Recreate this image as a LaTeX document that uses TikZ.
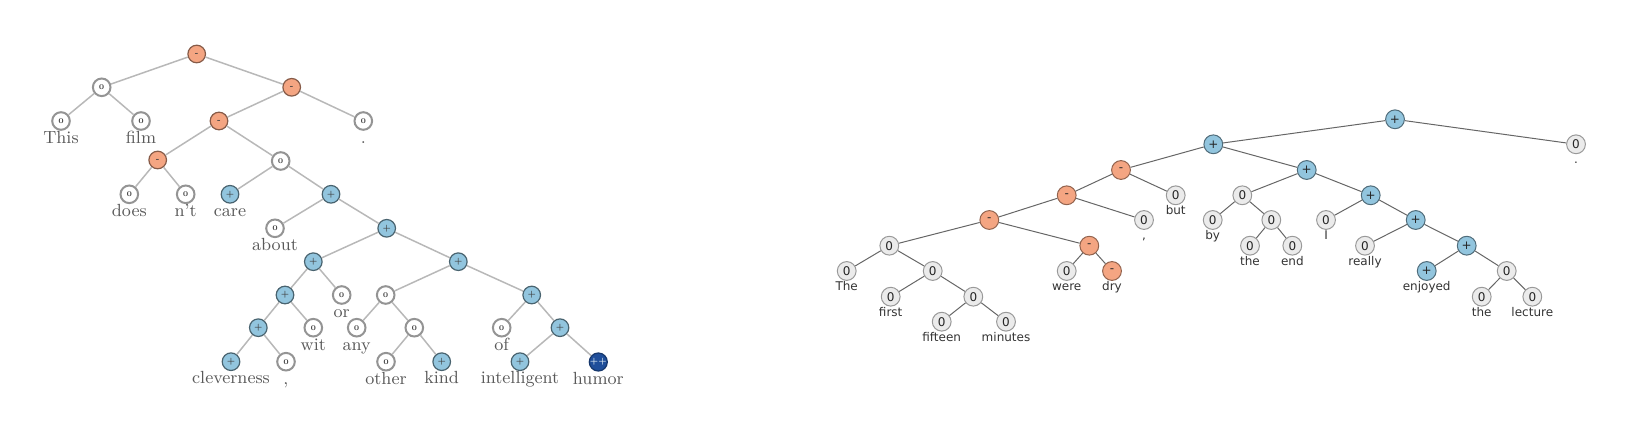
\documentclass[tikz,border=0pt]{standalone}
\usepackage{fontspec}
\usepackage{tikz}
\newfontfamily\treefont{DejaVu Sans}
\definecolor{negfill}{HTML}{F4A582}
\definecolor{posfill}{HTML}{92C5DE}
\definecolor{vposfill}{HTML}{1F4E9A}
\colorlet{negline}{negfill!55!black}
\colorlet{posline}{posfill!50!black}

\begin{document}
\begin{tikzpicture}[-,x=0.5pt,y=-0.5pt]
\tikzstyle{lvertex}=[circle,minimum size=8.8pt,inner sep=0pt,label distance=2pt,font=\fontsize{3.6}{4}\selectfont\bfseries,text=black!75]
\tikzstyle{lzero}=[lvertex,draw=black!42,line width=1pt,fill=white]
\tikzstyle{lneg}=[lvertex,draw=negline,line width=0.6pt,fill=negfill]
\tikzstyle{lpos}=[lvertex,draw=posline,line width=0.6pt,fill=posfill]
\tikzstyle{lvpos}=[lvertex,draw=vposfill!70!black,line width=0.6pt,fill=vposfill,text=white!75!posfill]
\tikzstyle{lword}=[inner sep=0pt,text height=6.2pt,text depth=1.8pt,text=black!65,font=\fontsize{8.8}{10}\selectfont]
\tikzstyle{rvertex}=[circle,minimum size=9.4pt,inner sep=0pt,line width=0.5pt,label distance=1pt,font=\treefont\fontsize{6}{7}\selectfont,text=black!85]
\tikzstyle{rzero}=[rvertex,draw=black!40,fill=black!8]
\tikzstyle{rneg}=[rvertex,draw=negfill!60!black,fill=negfill]
\tikzstyle{rpos}=[rvertex,draw=posfill!55!black,fill=posfill]
\tikzstyle{rword}=[inner sep=0pt,text height=4.6pt,text depth=1.3pt,text=black!80,font=\treefont\fontsize{6}{7}\selectfont]
\tikzstyle{ledge}=[draw=black!28,line width=0.75pt]
\tikzstyle{redge}=[draw=black!60,line width=0.5pt]

\useasboundingbox (0,0) rectangle (1647,432);

% left tree
\node [lneg] (l1) at (196.7,54) {-};
\node [lzero] (l2) at (101.7,87.3) {0};
\node [lzero,label={[lword]below:This}] (l3) at (61,121) {0};
\node [lzero,label={[lword]below:film}] (l4) at (141,121) {0};
\node [lneg] (l5) at (291.7,87.3) {-};
\node [lzero,label={[lword]below:.}] (l6) at (363.3,121) {0};
\node [lneg] (l7) at (219,121) {-};
\node [lneg] (l8) at (157.7,160) {-};
\node [lzero,label={[lword]below:does}] (l9) at (129.3,194.3) {0};
\node [lzero,label={[lword]below:n't}] (l10) at (185.7,194.3) {0};
\node [lzero] (l11) at (280.7,161) {0};
\node [lpos,label={[lword]below:care}] (l12) at (230,194.3) {+};
\node [lpos] (l13) at (331,194.3) {+};
\node [lzero,label={[lword]below:about}] (l14) at (275,228.3) {0};
\node [lpos] (l15) at (386.7,228.3) {+};
\node [lpos] (l16) at (313.3,261.7) {+};
\node [lpos] (l17) at (458.3,261.7) {+};
\node [lpos] (l18) at (285,295) {+};
\node [lzero,label={[lword]below:or}] (l19) at (341.7,295) {0};
\node [lzero] (l20) at (385.7,295) {0};
\node [lpos] (l21) at (531.7,295) {+};
\node [lpos] (l22) at (258.3,327.7) {+};
\node [lzero,label={[lword]below:wit}] (l23) at (313.3,327.7) {0};
\node [lzero,label={[lword]below:any}] (l24) at (356.7,327.7) {0};
\node [lzero] (l25) at (414.3,327.7) {0};
\node [lzero,label={[lword]below:of}] (l26) at (501.7,327.7) {0};
\node [lpos] (l27) at (560,327.7) {+};
\node [lpos,label={[lword]below:cleverness}] (l28) at (231,361.7) {+};
\node [lzero,label={[lword]below:,}] (l29) at (286,361.7) {0};
\node [lzero,label={[lword]below:other}] (l30) at (386,361.7) {0};
\node [lpos,label={[lword]below:kind}] (l31) at (441.7,361.7) {+};
\node [lpos,label={[lword]below:intelligent}] (l32) at (520,361.7) {+};
\node [lvpos,label={[lword]below:humor}] (l33) at (598.3,362) {++};

\path [ledge] (l1) edge (l2);
\path [ledge] (l1) edge (l5);
\path [ledge] (l2) edge (l3);
\path [ledge] (l2) edge (l4);
\path [ledge] (l5) edge (l7);
\path [ledge] (l5) edge (l6);
\path [ledge] (l7) edge (l8);
\path [ledge] (l7) edge (l11);
\path [ledge] (l8) edge (l9);
\path [ledge] (l8) edge (l10);
\path [ledge] (l11) edge (l12);
\path [ledge] (l11) edge (l13);
\path [ledge] (l13) edge (l14);
\path [ledge] (l13) edge (l15);
\path [ledge] (l15) edge (l16);
\path [ledge] (l15) edge (l17);
\path [ledge] (l16) edge (l18);
\path [ledge] (l16) edge (l19);
\path [ledge] (l18) edge (l22);
\path [ledge] (l18) edge (l23);
\path [ledge] (l22) edge (l28);
\path [ledge] (l22) edge (l29);
\path [ledge] (l17) edge (l20);
\path [ledge] (l17) edge (l21);
\path [ledge] (l20) edge (l24);
\path [ledge] (l20) edge (l25);
\path [ledge] (l25) edge (l30);
\path [ledge] (l25) edge (l31);
\path [ledge] (l21) edge (l26);
\path [ledge] (l21) edge (l27);
\path [ledge] (l27) edge (l32);
\path [ledge] (l27) edge (l33);

% right tree
\node [rpos] (r1) at (1395,119.3) {+};
\node [rpos] (r2) at (1213.3,144.3) {+};
\node [rzero,label={[rword]below:.}] (r3) at (1576,144.3) {0};
\node [rneg] (r4) at (1121,170) {-};
\node [rpos] (r5) at (1306.7,170) {+};
\node [rneg] (r6) at (1066.7,195.3) {-};
\node [rzero,label={[rword]below:but}] (r7) at (1175.7,195.3) {0};
\node [rzero] (r8) at (1242.3,195.3) {0};
\node [rpos] (r9) at (1370.7,195.3) {+};
\node [rneg] (r10) at (989.3,220) {-};
\node [rzero,label={[rword]below:,}] (r11) at (1144,220) {0};
\node [rzero,label={[rword]below:by}] (r12) at (1212.7,220) {0};
\node [rzero] (r13) at (1271.3,220) {0};
\node [rzero,label={[rword]below:I}] (r14) at (1326,220) {0};
\node [rpos] (r15) at (1415.7,220) {+};
\node [rzero] (r16) at (889.3,245.7) {0};
\node [rneg] (r17) at (1089.3,245.7) {-};
\node [rzero,label={[rword]below:the}] (r18) at (1250,245.7) {0};
\node [rzero,label={[rword]below:end}] (r19) at (1292.3,245.7) {0};
\node [rzero,label={[rword]below:really}] (r20) at (1365,245.7) {0};
\node [rpos] (r21) at (1466.7,245.7) {+};
\node [rzero,label={[rword]below:The}] (r22) at (846.7,271) {0};
\node [rzero] (r23) at (932.7,271) {0};
\node [rzero,label={[rword]below:were}] (r24) at (1066.7,271) {0};
\node [rneg,label={[rword]below:dry}] (r25) at (1112,271) {-};
\node [rpos,label={[rword]below:enjoyed}] (r26) at (1426.7,271) {+};
\node [rzero] (r27) at (1506.7,271) {0};
\node [rzero,label={[rword]below:first}] (r28) at (890.7,296.7) {0};
\node [rzero] (r29) at (973.3,296.7) {0};
\node [rzero,label={[rword]below:the}] (r30) at (1481.7,296.7) {0};
\node [rzero,label={[rword]below:lecture}] (r31) at (1532.3,296.7) {0};
\node [rzero,label={[rword]below:fifteen}] (r32) at (941.7,321.7) {0};
\node [rzero,label={[rword]below:minutes}] (r33) at (1006,321.7) {0};

\path [redge] (r1) edge (r2);
\path [redge] (r1) edge (r3);
\path [redge] (r2) edge (r4);
\path [redge] (r2) edge (r5);
\path [redge] (r4) edge (r6);
\path [redge] (r4) edge (r7);
\path [redge] (r6) edge (r10);
\path [redge] (r6) edge (r11);
\path [redge] (r10) edge (r16);
\path [redge] (r10) edge (r17);
\path [redge] (r16) edge (r22);
\path [redge] (r16) edge (r23);
\path [redge] (r23) edge (r28);
\path [redge] (r23) edge (r29);
\path [redge] (r29) edge (r32);
\path [redge] (r29) edge (r33);
\path [redge] (r17) edge (r24);
\path [redge] (r17) edge (r25);
\path [redge] (r5) edge (r8);
\path [redge] (r5) edge (r9);
\path [redge] (r8) edge (r12);
\path [redge] (r8) edge (r13);
\path [redge] (r13) edge (r18);
\path [redge] (r13) edge (r19);
\path [redge] (r9) edge (r14);
\path [redge] (r9) edge (r15);
\path [redge] (r15) edge (r20);
\path [redge] (r15) edge (r21);
\path [redge] (r21) edge (r26);
\path [redge] (r21) edge (r27);
\path [redge] (r27) edge (r30);
\path [redge] (r27) edge (r31);
\end{tikzpicture}
\end{document}
